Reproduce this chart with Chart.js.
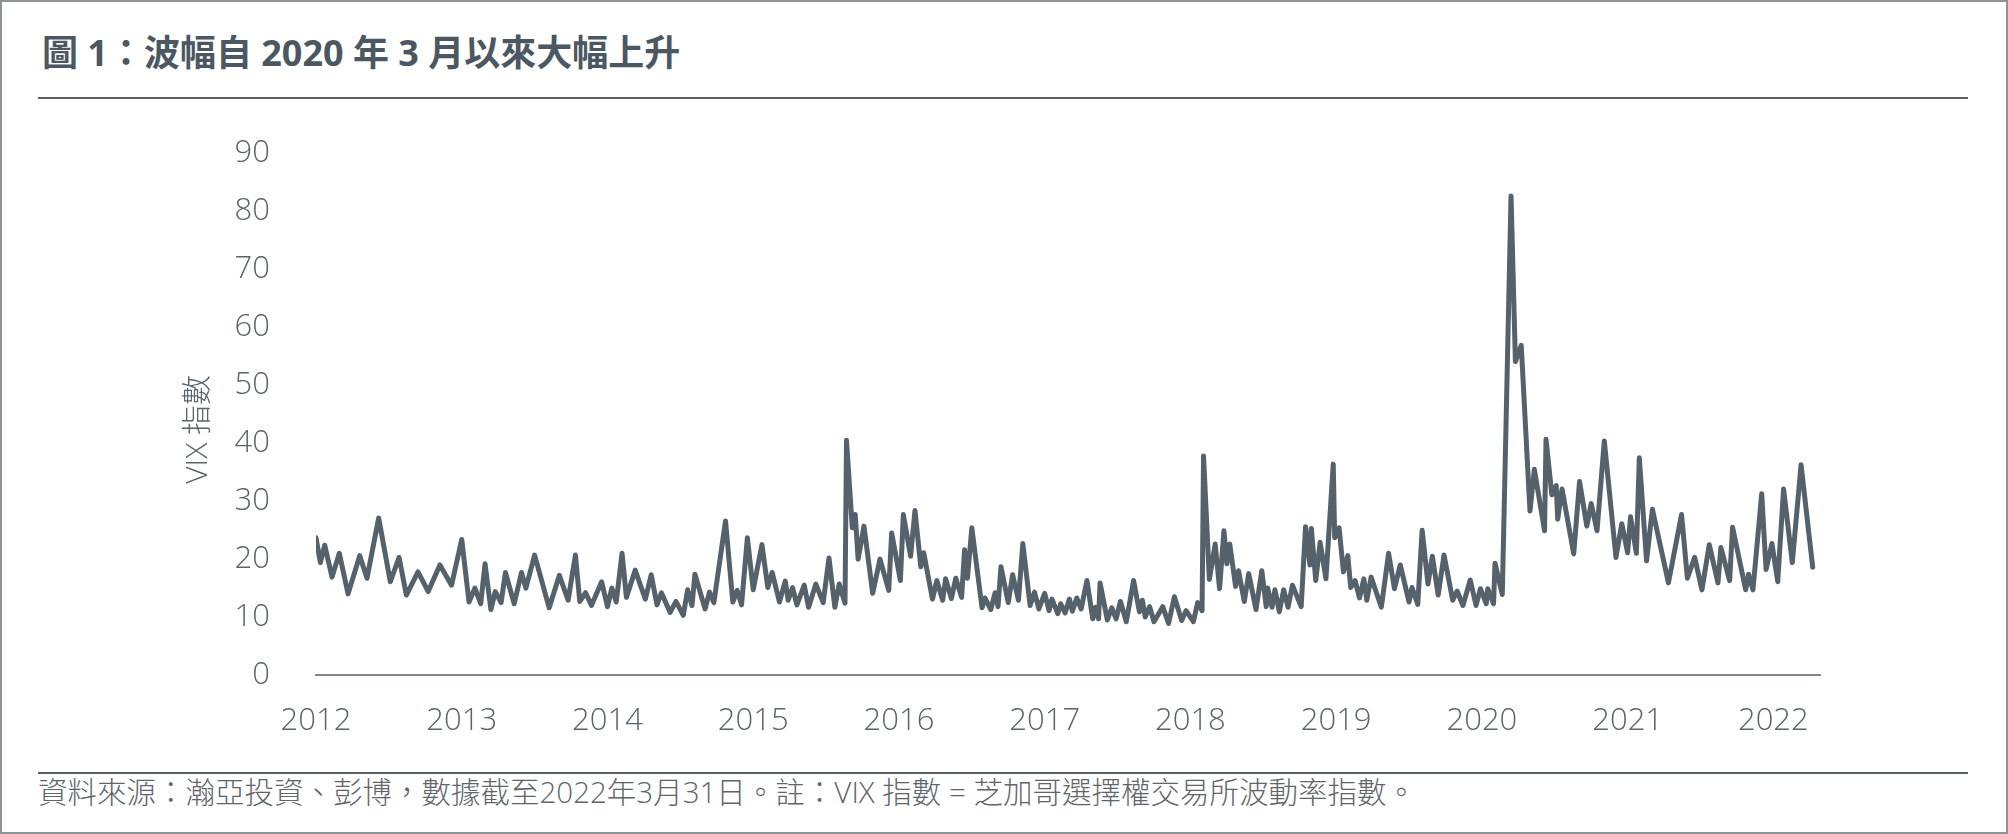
<!DOCTYPE html>
<html>
<head>
<meta charset="utf-8">
<script src="https://cdn.jsdelivr.net/npm/chart.js@4"></script>
<style>
  html, body { margin: 0; padding: 0; background: #fff; }
  .frame { position: relative; width: 2008px; height: 834px; box-sizing: border-box; border: 2px solid #8f9396; overflow: hidden; font-family: "Open Sans", "Noto Sans CJK TC", sans-serif; }
  .title { position: absolute; left: 40px; top: 22px; font-size: 36px; font-weight: 700; color: #4b5862; font-family: "Open Sans", "Noto Sans CJK TC", sans-serif; letter-spacing: 0; }
  .rule { position: absolute; left: 36px; width: 1930px; height: 2px; background: #5a5f63; }
  .note { position: absolute; left: 36px; top: 767px; font-size: 29.5px; font-weight: 300; color: #5f666b; font-family: "Open Sans", "Noto Sans CJK TC", sans-serif; }
  .chart-box { position: absolute; left: 0; top: 87px; width: 2004px; height: 671px; }
</style>
</head>
<body>
<div class="frame">
  <div class="title">圖 1：波幅自 2020 年 3 月以來大幅上升</div>
  <div class="rule" style="top:95px"></div>
  <div class="chart-box"><canvas id="vixChart"></canvas></div>
  <div class="rule" style="top:770px"></div>
  <div class="note">資料來源：瀚亞投資、彭博，數據截至2022年3月31日。註：VIX 指數 = 芝加哥選擇權交易所波動率指數。</div>
</div>
<script>
// position on time axis, in years
const years = [
  2012.00, 2012.03, 2012.06, 2012.11, 2012.16, 2012.22, 2012.30, 2012.35, 2012.43, 2012.51,
  2012.57, 2012.62, 2012.70, 2012.77, 2012.85, 2012.93, 2013.00, 2013.05, 2013.09, 2013.13,
  2013.16, 2013.20, 2013.23, 2013.27, 2013.30, 2013.36, 2013.41, 2013.44, 2013.50, 2013.60,
  2013.67, 2013.73, 2013.78, 2013.81, 2013.85, 2013.89, 2013.96, 2014.00, 2014.03, 2014.06,
  2014.10, 2014.13, 2014.19, 2014.26, 2014.30, 2014.34, 2014.37, 2014.43, 2014.47, 2014.52,
  2014.55, 2014.58, 2014.60, 2014.67, 2014.70, 2014.73, 2014.81, 2014.86, 2014.89, 2014.92,
  2014.96, 2015.00, 2015.06, 2015.10, 2015.13, 2015.18, 2015.22, 2015.24, 2015.27, 2015.30,
  2015.35, 2015.38, 2015.43, 2015.48, 2015.52, 2015.56, 2015.59, 2015.63, 2015.64, 2015.68,
  2015.70, 2015.72, 2015.76, 2015.82, 2015.87, 2015.93, 2015.95, 2016.01, 2016.03, 2016.08,
  2016.11, 2016.15, 2016.17, 2016.23, 2016.26, 2016.30, 2016.32, 2016.36, 2016.39, 2016.43,
  2016.45, 2016.47, 2016.50, 2016.57, 2016.59, 2016.63, 2016.66, 2016.68, 2016.70, 2016.75,
  2016.78, 2016.82, 2016.85, 2016.90, 2016.93, 2016.96, 2017.00, 2017.03, 2017.05, 2017.09,
  2017.11, 2017.14, 2017.17, 2017.19, 2017.22, 2017.25, 2017.29, 2017.33, 2017.35, 2017.37,
  2017.38, 2017.43, 2017.46, 2017.49, 2017.52, 2017.56, 2017.61, 2017.65, 2017.67, 2017.69,
  2017.72, 2017.75, 2017.81, 2017.85, 2017.89, 2017.94, 2017.97, 2018.02, 2018.05, 2018.08,
  2018.09, 2018.13, 2018.17, 2018.20, 2018.23, 2018.25, 2018.27, 2018.31, 2018.33, 2018.37,
  2018.40, 2018.45, 2018.49, 2018.52, 2018.53, 2018.56, 2018.58, 2018.61, 2018.64, 2018.67,
  2018.70, 2018.76, 2018.79, 2018.82, 2018.83, 2018.86, 2018.89, 2018.93, 2018.98, 2018.99,
  2019.02, 2019.05, 2019.08, 2019.10, 2019.13, 2019.16, 2019.19, 2019.21, 2019.24, 2019.31,
  2019.36, 2019.40, 2019.44, 2019.50, 2019.52, 2019.56, 2019.59, 2019.63, 2019.66, 2019.70,
  2019.74, 2019.80, 2019.83, 2019.87, 2019.92, 2019.96, 2019.99, 2020.03, 2020.04, 2020.08,
  2020.09, 2020.14, 2020.20, 2020.23, 2020.27, 2020.33, 2020.36, 2020.43, 2020.44, 2020.48,
  2020.51, 2020.52, 2020.55, 2020.63, 2020.67, 2020.72, 2020.75, 2020.79, 2020.84, 2020.92,
  2020.96, 2021.00, 2021.02, 2021.06, 2021.08, 2021.13, 2021.17, 2021.28, 2021.37, 2021.41,
  2021.46, 2021.51, 2021.56, 2021.62, 2021.64, 2021.70, 2021.72, 2021.81, 2021.83, 2021.86,
  2021.92, 2021.95, 2021.99, 2022.03, 2022.07, 2022.13, 2022.19, 2022.27
];

const vix = [
  23.7, 19.4, 22.4, 16.9, 21.0, 14.0, 20.6, 16.7, 27.1, 16.1,
  20.3, 13.8, 17.8, 14.4, 19.0, 15.5, 23.4, 12.6, 15.0, 12.3,
  19.2, 11.3, 14.4, 12.5, 17.7, 12.3, 17.7, 15.0, 20.7, 11.6,
  17.2, 12.9, 20.7, 12.7, 14.2, 12.0, 16.1, 11.8, 15.0, 12.6,
  21.0, 13.4, 18.1, 13.1, 17.3, 12.1, 14.2, 10.8, 12.7, 10.3,
  14.7, 12.0, 17.4, 11.4, 14.3, 12.5, 26.6, 12.6, 14.6, 12.1,
  23.7, 14.7, 22.5, 15.1, 17.7, 12.6, 16.2, 12.9, 15.1, 12.1,
  15.5, 11.7, 15.7, 12.5, 20.2, 11.7, 15.7, 12.4, 40.5, 25.4,
  27.7, 20.0, 25.7, 14.1, 20.0, 14.6, 24.5, 16.3, 27.7, 20.5,
  28.4, 18.7, 21.1, 13.1, 16.3, 12.9, 16.6, 13.2, 16.7, 13.4,
  21.6, 16.7, 25.4, 11.6, 13.3, 11.3, 14.2, 11.8, 18.7, 12.5,
  17.3, 12.9, 22.7, 12.0, 14.3, 11.4, 14.1, 11.1, 13.1, 10.6,
  12.3, 10.7, 13.1, 11.0, 13.3, 11.4, 16.3, 9.7, 11.7, 9.7,
  15.9, 9.5, 11.6, 9.7, 12.7, 9.2, 16.3, 10.9, 12.9, 10.0,
  11.8, 9.2, 11.8, 8.9, 13.5, 9.4, 11.1, 9.2, 12.5, 11.1,
  37.8, 16.5, 22.6, 14.9, 24.9, 19.2, 22.6, 15.3, 18.0, 12.7,
  17.5, 11.3, 18.0, 11.8, 15.0, 11.7, 14.7, 10.9, 14.7, 11.7,
  15.5, 11.8, 25.6, 19.0, 25.3, 16.3, 22.9, 16.6, 36.4, 23.7,
  25.4, 17.8, 20.6, 15.1, 16.3, 13.3, 16.6, 12.9, 16.9, 11.7,
  21.0, 14.9, 19.0, 12.6, 15.1, 12.2, 25.0, 15.7, 20.5, 13.8,
  20.7, 12.9, 14.5, 12.0, 16.4, 12.0, 14.9, 12.3, 14.9, 12.3,
  19.3, 13.9, 82.7, 54.1, 56.9, 28.3, 35.5, 24.9, 40.7, 31.1,
  32.7, 26.9, 32.1, 20.9, 33.4, 25.7, 29.6, 24.9, 40.4, 20.3,
  26.1, 21.1, 27.3, 21.0, 37.5, 19.7, 28.6, 15.9, 27.7, 16.7,
  20.3, 14.7, 22.5, 15.9, 22.0, 16.3, 25.5, 14.7, 17.4, 14.7,
  31.3, 18.2, 22.7, 16.1, 32.1, 19.4, 36.3, 18.6
];

const xTickYears = [2012, 2013, 2014, 2015, 2016, 2017, 2018, 2019, 2020, 2021, 2022];
const yTicks = [0, 10, 20, 30, 40, 50, 60, 70, 80, 90];
const yTitle = 'VIX 指數';

const lineColor = '#56626b';
const labelColor = '#5b646b';
const labelFont = { family: '"Open Sans", "Noto Sans CJK TC", sans-serif', size: 31, weight: '300' };

const points = years.map((x, i) => ({ x, y: vix[i] }));

new Chart(document.getElementById('vixChart'), {
  type: 'line',
  data: {
    datasets: [{
      data: points,
      borderColor: lineColor,
      borderWidth: 5,
      borderJoinStyle: 'round',
      borderCapStyle: 'round',
      pointRadius: 0,
      tension: 0,
      fill: false
    }]
  },
  options: {
    responsive: true,
    maintainAspectRatio: false,
    animation: false,
    // top room comes from the y tick padding (46 + half a label)
    layout: { padding: { top: 0, right: 186, left: 0, bottom: 0 } },
    plugins: { legend: { display: false }, tooltip: { enabled: false } },
    scales: {
      x: {
        type: 'linear',
        min: 2012,
        max: 2022.32,
        grid: { display: false, drawTicks: false },
        border: { display: true, color: '#80878c', width: 2 },
        afterBuildTicks: s => { s.ticks = xTickYears.map(v => ({ value: v })); },
        afterFit: s => { s.height = 85; },
        ticks: {
          color: labelColor,
          font: labelFont,
          padding: 28,
          maxRotation: 0,
          autoSkip: false,
          callback: v => String(v)
        }
      },
      y: {
        min: 0,
        max: 90,
        grid: { display: false, drawTicks: false },
        border: { display: false },
        afterBuildTicks: s => { s.ticks = yTicks.map(v => ({ value: v })); },
        afterFit: s => { s.width = 314; },
        ticks: {
          color: labelColor,
          font: labelFont,
          padding: 46,
          callback: v => String(v)
        },
        title: {
          display: true,
          // em space at the end nudges the centred title a little lower, as in the source
          text: yTitle + '\u2003',
          color: labelColor,
          font: { family: '"Open Sans", "Noto Sans CJK TC", sans-serif', size: 30, weight: '300' },
          padding: { top: 178, bottom: 0 }
        }
      }
    }
  }
});
</script>
</body>
</html>
